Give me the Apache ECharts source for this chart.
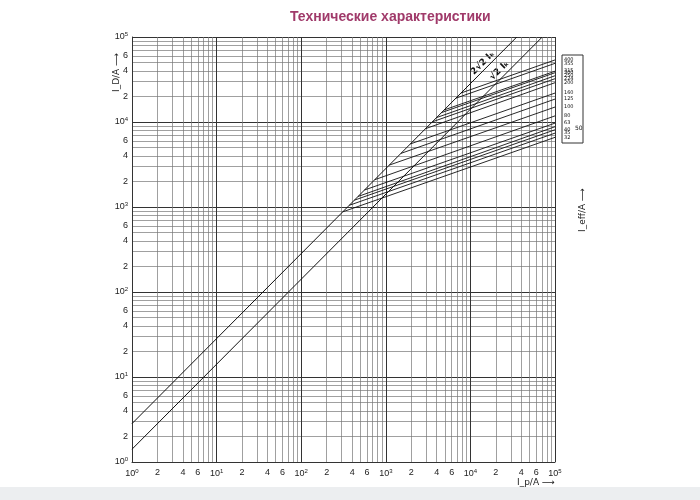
<!DOCTYPE html>
<html><head><meta charset="utf-8">
<script src="https://cdn.jsdelivr.net/npm/echarts@6/dist/echarts.min.js"></script>
<style>html,body{margin:0;background:#fff}#c{width:700px;height:500px}</style></head>
<body><div id="c"></div>
<script>
// rated currents of the fuse curves
const ratings = [400,355,315,300,250,224,200,160,125,100,80,63,50,40,35,32];
// prospective current where each curve leaves the 2√2·Ik line (A)
const startIp = [7760,6730,4900,4560,3980,3550,2950,1950,1510,1100,740,560,470,425,370,310];
// cut-off current at Ip = 1e5 A
const endId = [53700,49000,39600,38000,35000,32300,29000,21900,18600,15000,11800,9700,8800,8100,7400,6600];
const peakFactor = [2.83, 1.414]; // 2√2 and √2
const ikLabels = ['2√2 Iₖ', '√2 Iₖ'];
const xMaxIp = 1e5, yMaxId = 1e5;

const thin = [], major = [];
for (let d = 0; d <= 5; d++) { major.push(d); if (d<5) for (let k = 2; k <= 9; k++) thin.push(d + Math.log10(k)); }
const labVals = [];
for (let d = 0; d <= 5; d++) { labVals.push(d); if (d<5) [2,4,6].forEach(k=>labVals.push(d+Math.log10(k))); }
const fmt = v => { const r = Math.round(v); if (Math.abs(v-r)<1e-6) return '{a|10}{b|'+r+'}'; return String(Math.round(Math.pow(10, v - Math.floor(v)))); };
const rich = {a:{fontSize:9,color:'#222'},b:{fontSize:6,color:'#222',verticalAlign:'top',padding:[0,0,5,0]}};
const grid = {left:132,right:145,top:37,bottom:38};
function valAxis(vals, width, color, showLab, isX){
  return {type:'value',min:0,max:5,gridIndex:0,position:isX?'bottom':'left',offset:0,
    axisLine:{show:showLab,onZero:false,lineStyle:{color:'#333',width:1}},
    axisTick:{show:false,customValues:vals},
    splitLine:{show:true,lineStyle:{color:color,width:width}},
    axisLabel:{show:showLab,customValues:labVals,formatter:fmt,rich:rich,fontSize:9,color:'#222',margin:isX?6:4}};
}
const xA = [
  {type:'log',min:1,max:xMaxIp,show:false},
  valAxis(thin,0.7,'#777',false,true),
  valAxis(major,1,'#333',true,true)
];
const yA = [
  {type:'log',min:1,max:yMaxId,show:false},
  valAxis(thin,0.7,'#777',false,false),
  valAxis(major,1,'#333',true,false)
];
const series = [];
peakFactor.forEach(f => series.push({type:'line',xAxisIndex:0,yAxisIndex:0,symbol:'none',silent:true,
  lineStyle:{color:'#111',width:1},data:[[1,f],[yMaxId/f,yMaxId]]}));
ratings.forEach((r,i) => series.push({type:'line',xAxisIndex:0,yAxisIndex:0,symbol:'none',silent:true,
  lineStyle:{color:'#111',width:0.9},data:[[startIp[i],startIp[i]*peakFactor[0]],[xMaxIp,endId[i]]]}));
const chart = echarts.init(document.getElementById('c'));
chart.setOption({animation:false,grid:grid,xAxis:xA,yAxis:yA,series:series,
  graphic:[
    {type:'text',x:290,y:10,style:{text:'Технические характеристики',fill:'#a03a6a',font:'bold 14px "Liberation Sans", Arial'}},
    {type:'rect',shape:{x:0,y:487,width:700,height:13},style:{fill:'#eceef0'}},
    {type:'text',x:112,y:92,rotation:Math.PI/2,style:{text:'I_D/A ⟶',fill:'#222',font:'9px "DejaVu Sans"'}},
    {type:'text',x:517,y:478,style:{text:'I_p/A ⟶',fill:'#222',font:'9px "DejaVu Sans"'}},
    {type:'text',x:578,y:232,rotation:Math.PI/2,style:{text:'I_eff/A ⟶',fill:'#222',font:'9px "DejaVu Sans"'}},
    {type:'rect',shape:{x:562,y:55,width:21,height:88},style:{fill:'none',stroke:'#333',lineWidth:1}}
  ]});
// annotations placed via the chart's own scales
const g = [];
[[14000,peakFactor[0]*14000*1.25,0],[22000,peakFactor[1]*22000*1.3,1]].forEach(([x,y,i])=>{
  const p = chart.convertToPixel({xAxisIndex:0,yAxisIndex:0},[x,y]);
  g.push({type:'text',x:p[0],y:p[1],rotation:Math.PI/4,style:{text:ikLabels[i],fill:'#111',font:'bold 9px "DejaVu Sans"',align:'center',verticalAlign:'middle'}});
});
ratings.forEach((r,i)=>{
  if (r===50) return;
  const p = chart.convertToPixel({xAxisIndex:0,yAxisIndex:0},[xMaxIp,endId[i]]);
  g.push({type:'text',x:p[0]+9,y:p[1],style:{text:String(r),fill:'#111',font:'5px "DejaVu Sans"',verticalAlign:'middle'}});
});
g.push({type:'text',x:575,y:128,style:{text:'50',fill:'#111',font:'6px "DejaVu Sans"',verticalAlign:'middle'}});
chart.setOption({graphic:g.map((o,i)=>Object.assign({id:'a'+i},o))});
</script></body></html>
